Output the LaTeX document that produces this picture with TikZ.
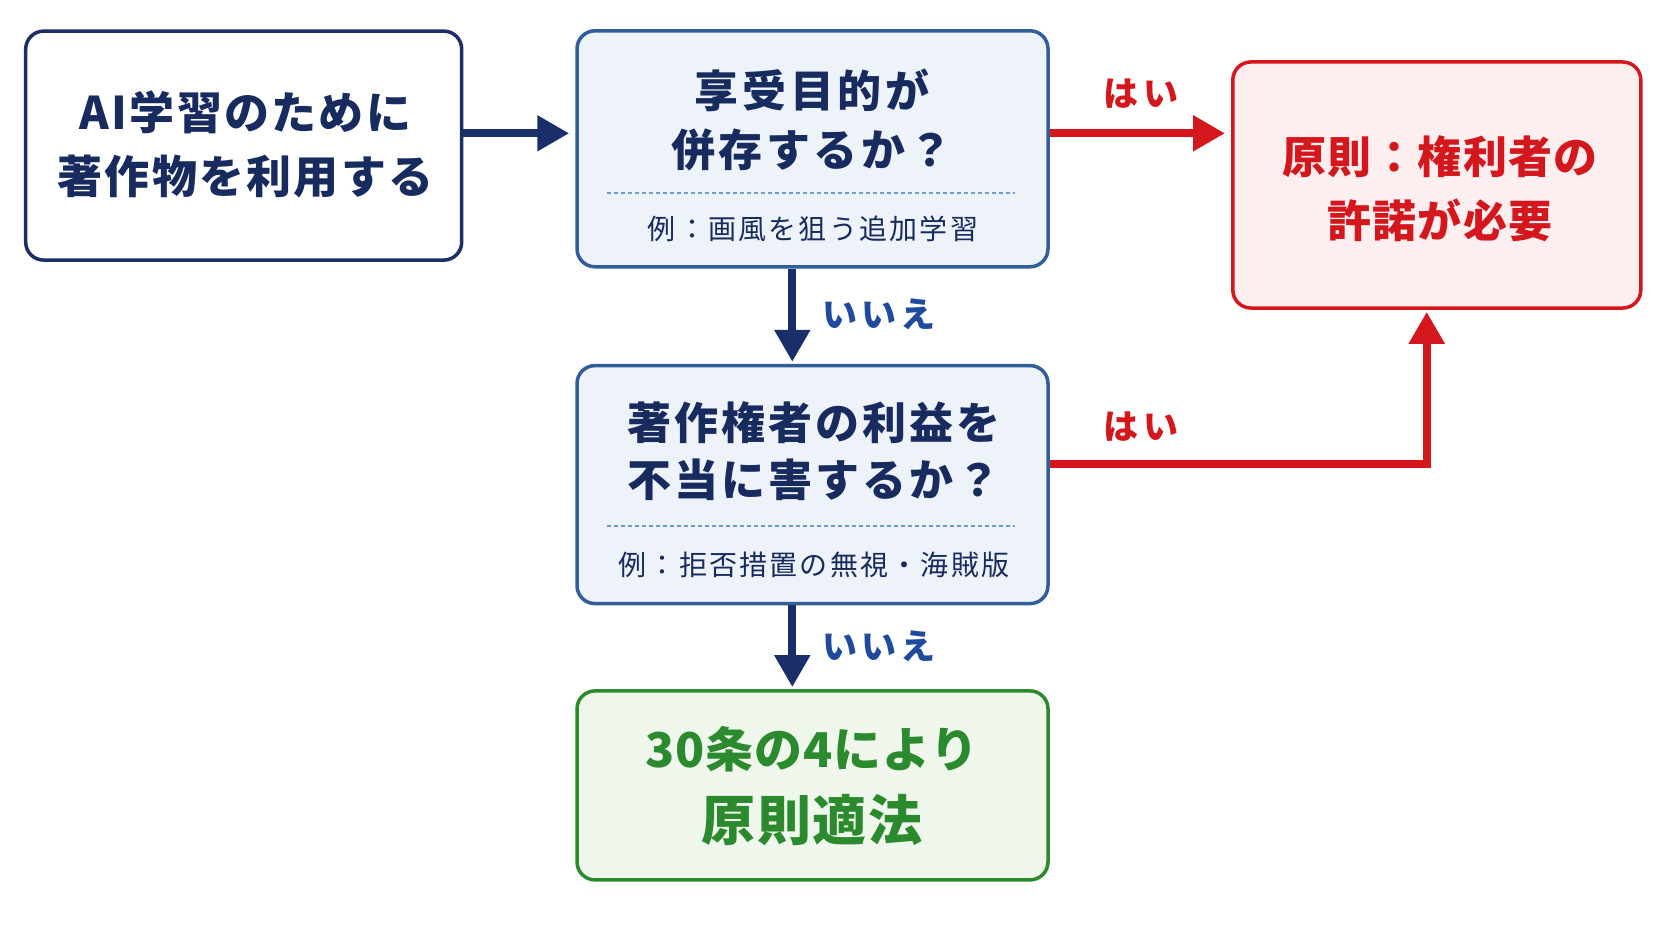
\documentclass[tikz,border=0pt]{standalone}
\usepackage{fontspec}
\newfontfamily\jp{Noto Sans CJK JP}
\usetikzlibrary{arrows.meta}
\definecolor{navy}{HTML}{172B5E}
\definecolor{navyline}{HTML}{1B2E66}
\definecolor{qline}{HTML}{2F5E99}
\definecolor{qfill}{HTML}{EEF3FA}
\definecolor{dotc}{HTML}{6E9BD2}
\definecolor{redc}{HTML}{D4171D}
\definecolor{redfill}{HTML}{FDEEEF}
\definecolor{greenc}{HTML}{2C8A2E}
\definecolor{greenfill}{HTML}{EFF7EC}
\definecolor{noc}{HTML}{1F4A9E}
\definecolor{arrc}{HTML}{1A2F6A}
\tikzset{
  box/.style={rounded corners=18pt, line width=3.5pt, inner sep=0pt},
  maintext/.style={font=\jp\bfseries\fontsize{44}{60}\selectfont, align=center, text=navy, inner sep=0pt},
  extext/.style={font=\jp\addfontfeatures{LetterSpace=8}\fontsize{28}{34}\selectfont, text=navy, inner sep=0pt},
  lbl/.style={font=\jp\bfseries\addfontfeatures{LetterSpace=12}\fontsize{35}{40}\selectfont, inner sep=0pt},
  arr/.style={line width=8pt, draw=arrc, -{Triangle[length=32pt,width=34pt]}},
  rarr/.style={line width=8pt, draw=redc, -{Triangle[length=32pt,width=34pt]}},
  dots/.style={draw=dotc, line width=2.5pt, dash pattern=on 4pt off 3pt}
}
\begin{document}
\begin{tikzpicture}[x=1pt,y=-1pt]
\useasboundingbox[fill=white] (0,0) rectangle (1672,941);

% boxes
\node[box, draw=navyline, fill=white, minimum width=436pt, minimum height=229pt] (A) at (243.7,145.6) {};
\node[box, draw=qline, fill=qfill, minimum width=471pt, minimum height=236pt] (B) at (812.5,148.8) {};
\node[box, draw=redc, fill=redfill, minimum width=408pt, minimum height=246pt] (R) at (1436.8,185) {};
\node[box, draw=qline, fill=qfill, minimum width=471pt, minimum height=238pt] (C) at (812.5,484.6) {};
\node[box, draw=greenc, fill=greenfill, minimum width=471pt, minimum height=189pt] (D) at (812.5,785.4) {};

% texts
\node[maintext, font=\jp\bfseries\addfontfeatures{LetterSpace=5}\fontsize{45}{64}\selectfont] (At) at (245.5,144) {AI学習のために\\著作物を利用する};
\node[maintext, font=\jp\bfseries\addfontfeatures{LetterSpace=8}\fontsize{44}{59}\selectfont] (Bt) at (812,120) {享受目的が\\併存するか？};
\node[extext] (Bx) at (813,229) {例：画風を狙う追加学習};
\node[maintext, font=\jp\bfseries\addfontfeatures{LetterSpace=7}\fontsize{44}{57}\selectfont] (Ct) at (814,451.5) {著作権者の利益を\\不当に害するか？};
\node[extext] (Cx) at (814,565) {例：拒否措置の無視・海賊版};
\node[maintext, text=redc, font=\jp\bfseries\addfontfeatures{LetterSpace=3}\fontsize{44}{64}\selectfont] (Rt) at (1440,189) {原則：権利者の\\許諾が必要};
\node[maintext, text=greenc, font=\jp\bfseries\addfontfeatures{LetterSpace=2}\fontsize{48}{73}\selectfont] (Dt) at (812,786.5) {30条の4により\\{\addfontfeatures{LetterSpace=3}\fontsize{54}{73}\selectfont 原則適法}};

% dotted separators
\coordinate (B1) at (607,193);
\coordinate (B2) at (1015,193);
\draw[dots] (B1) -- (B2);
\coordinate (C1) at (607,526);
\coordinate (C2) at (1015,526);
\draw[dots] (C1) -- (C2);

% connector anchors
\coordinate (ya) at (0,133.3);
\coordinate (xd) at (792.3,0);
\coordinate (yc) at (0,463.8);
\coordinate (xr) at (1426.7,0);

% arrows
\draw[arr, shorten >=6pt] (A.east |- ya) -- (B.west |- ya);
\draw[rarr, shorten >=6pt] (B.east |- ya) -- (R.west |- ya);
\draw[arr, shorten >=2pt] (xd |- B.south) -- (xd |- C.north);
\draw[arr, shorten >=2pt] (xd |- C.south) -- (xd |- D.north);
\draw[rarr, shorten >=2pt] (C.east |- yc) -| (xr |- R.south);

% labels
\node[lbl, text=redc] (y1) at (1141,93.8) {はい};
\node[lbl, text=redc] (y2) at (1141,426.5) {はい};
\node[lbl, text=noc] (n1) at (879,314.6) {いいえ};
\node[lbl, text=noc] (n2) at (879,646) {いいえ};
\end{tikzpicture}
\end{document}
